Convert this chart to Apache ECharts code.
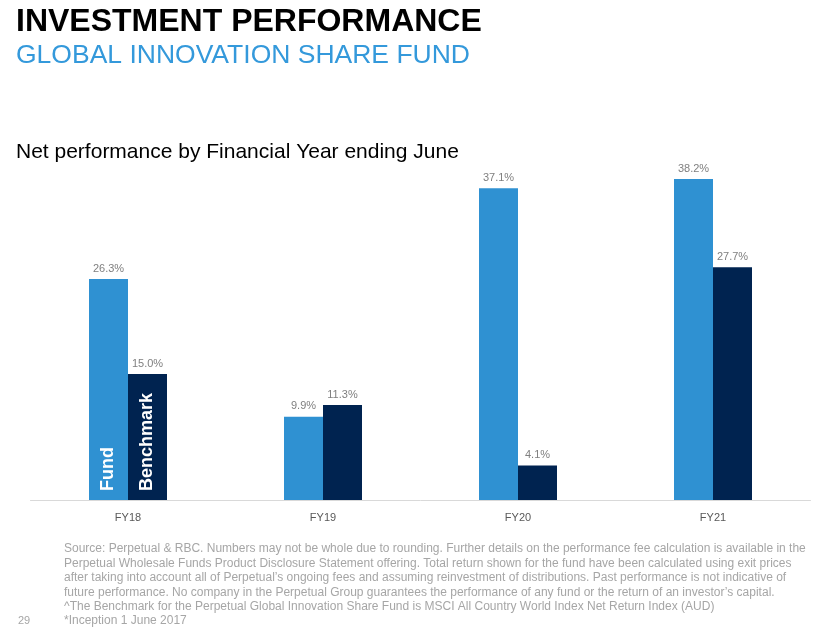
<!DOCTYPE html>
<html><head><meta charset="utf-8">
<script src="https://cdn.jsdelivr.net/npm/echarts@6/dist/echarts.min.js"></script>
<style>html,body{margin:0;padding:0;background:#fff;}#c{width:829px;height:637px;}</style>
</head><body><div id="c"></div>
<script>
const categories = ['FY18','FY19','FY20','FY21'];
const fundValues = [26.3, 9.9, 37.1, 38.2];
const benchmarkValues = [15.0, 11.3, 4.1, 27.7];
const footnoteLines = [
 'Source: Perpetual & RBC. Numbers may not be whole due to rounding. Further details on the performance fee calculation is available in the',
 'Perpetual Wholesale Funds Product Disclosure Statement offering. Total return shown for the fund have been calculated using exit prices',
 'after taking into account all of Perpetual\u2019s ongoing fees and assuming reinvestment of distributions. Past performance is not indicative of',
 'future performance. No company in the Perpetual Group guarantees the performance of any fund or the return of an investor\u2019s capital.',
 '^The Benchmark for the Perpetual Global Innovation Share Fund is MSCI All Country World Index Net Return Index (AUD)',
 '*Inception 1 June 2017'
];
const chart = echarts.init(document.getElementById('c'));
const valLabel = {show:true, position:'top', distance:5, color:'#7f7f7f', fontSize:11, fontFamily:'Liberation Sans, Arial, sans-serif', formatter: p => p.value.toFixed(1) + '%'};
chart.setOption({
  animation:false,
  backgroundColor:'#fff',
  grid:{left:30.5, right:18.5, top:164, bottom:137},
  xAxis:{type:'category', data:categories,
    axisLine:{lineStyle:{color:'#d9d9d9', width:1}}, axisTick:{show:false},
    axisLabel:{color:'#595959', fontSize:11, margin:12, fontFamily:'Liberation Sans, Arial, sans-serif'}},
  yAxis:{type:'value', min:0, max:40, show:false, splitLine:{show:false}},
  series:[
    {name:'Fund', type:'bar', data:fundValues, barCategoryGap:'60%', barGap:'0%', itemStyle:{color:'#2f91d2'}, label:valLabel},
    {name:'Benchmark', type:'bar', data:benchmarkValues, barGap:'0%', itemStyle:{color:'#002350'}, label:valLabel}
  ],
  title:[
    {text:'INVESTMENT PERFORMANCE', left:16, top:6, padding:0, textStyle:{fontSize:32, fontWeight:'bold', color:'#000', fontFamily:'Liberation Sans, Arial, sans-serif'}},
    {text:'GLOBAL INNOVATION SHARE FUND', left:16, top:42, padding:0, textStyle:{fontSize:26.5, fontWeight:'normal', color:'#3499db', fontFamily:'Liberation Sans, Arial, sans-serif'}},
    {text:'Net performance by Financial Year ending June', left:16, top:142, padding:0, textStyle:{fontSize:21, fontWeight:'normal', color:'#000', fontFamily:'Liberation Sans, Arial, sans-serif'}}
  ]
});
const base = chart.convertToPixel({gridIndex:0}, [0, 0]);
const fundX = base[0] - 19.5;
const benchX = base[0] + 19.5;
const graphics = [
  {type:'text', z:100, x:fundX, y:base[1]-9, rotation:Math.PI/2, style:{text:'Fund', fill:'#fff', font:'bold 18px Liberation Sans, Arial, sans-serif', textAlign:'left', textVerticalAlign:'middle'}},
  {type:'text', z:100, x:benchX, y:base[1]-9, rotation:Math.PI/2, style:{text:'Benchmark', fill:'#fff', font:'bold 18px Liberation Sans, Arial, sans-serif', textAlign:'left', textVerticalAlign:'middle'}},
  {type:'text', left:18, top:615, style:{text:'29', fill:'#a6a6a6', font:'11px Liberation Sans, Arial, sans-serif'}}
];
footnoteLines.forEach((t,i)=>{
  graphics.push({type:'text', left:64, top:543 + i*14.4, style:{text:t, fill:'#a6a6a6', font:'12px "Liberation Sans Narrow", "Arial Narrow", sans-serif'}});
});
chart.setOption({graphic:graphics});
</script></body></html>
